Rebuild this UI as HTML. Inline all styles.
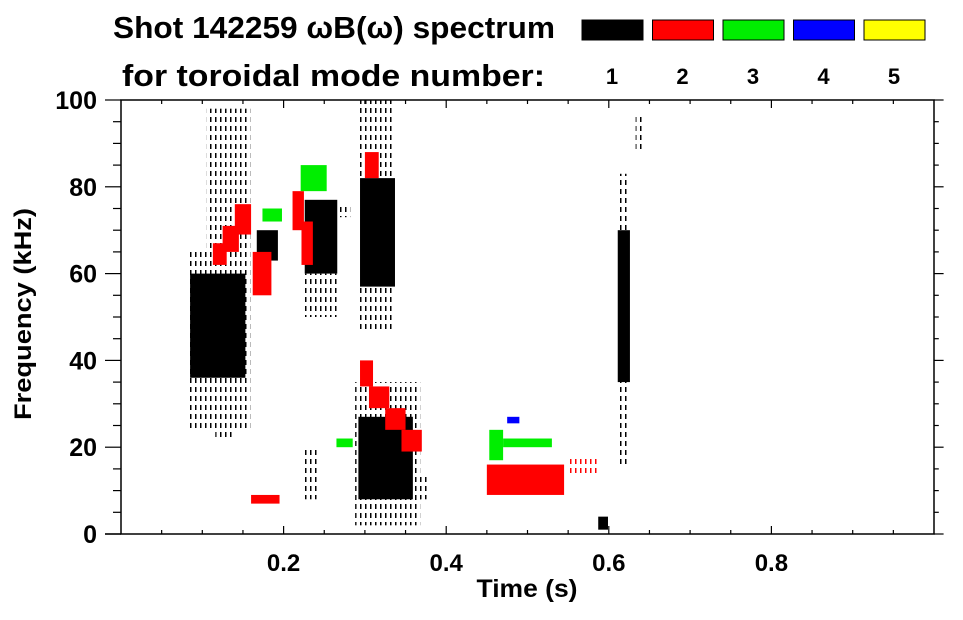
<!DOCTYPE html>
<html><head><meta charset="utf-8">
<style>
html,body{margin:0;padding:0;background:#fff;}
body{width:963px;height:615px;overflow:hidden;font-family:"Liberation Sans",Arial,sans-serif;}
svg text{font-family:"Liberation Sans",Arial,sans-serif;font-weight:bold;fill:#000;}
</style></head>
<body>
<svg id="chart" width="963" height="615" viewBox="0 0 963 615" xmlns="http://www.w3.org/2000/svg">
<defs>
<pattern id="streakK" width="5" height="9" patternUnits="userSpaceOnUse"><rect x="0" y="0" width="1.5" height="5" fill="#000"/></pattern>
<pattern id="streakR" width="5" height="9" patternUnits="userSpaceOnUse"><rect x="0" y="0" width="1.5" height="5" fill="#f00"/></pattern>
<pattern id="streakG" width="5" height="9" patternUnits="userSpaceOnUse"><rect x="0" y="0" width="1.5" height="5" fill="#0e0"/></pattern>
</defs>
<text x="113" y="38" font-size="31" textLength="442" lengthAdjust="spacingAndGlyphs">Shot 142259 ωB(ω) spectrum</text>
<text x="122" y="86" font-size="31" textLength="423" lengthAdjust="spacingAndGlyphs">for toroidal mode number:</text>
<g id="legend"></g>
<g id="marks"></g>
<g id="axes"></g>
<text transform="translate(31,314) rotate(-90)" text-anchor="middle" font-size="24" textLength="212" lengthAdjust="spacingAndGlyphs">Frequency (kHz)</text>
<text x="527" y="597" text-anchor="middle" font-size="25" textLength="101" lengthAdjust="spacingAndGlyphs">Time (s)</text>
</svg>
<script>
const modeLabels=["1","2","3","4","5"];
const modeColors=["#000","#f00","#0e0","#00f","#ff0"];
const xTicks=[0.2,0.4,0.6,0.8];
const yTicks=[0,20,40,60,80,100];
// blobs: start time, end time, low freq, high freq, mode index, dense(1)/sparse(0)
const blobT0=[0.082,0.085,0.116,0.105,0.167,0.226,0.226,0.266,0.294,0.294,0.294,0.292,0.288,0.359,0.223,0.611,0.611,0.587,0.633,
 0.113,0.125,0.14,0.162,0.211,0.222,0.3,0.294,0.305,0.325,0.345,0.16,0.45,0.548,
 0.174,0.221,0.453,0.47,0.265,0.475];
const blobT1=[0.159,0.153,0.14,0.159,0.193,0.266,0.266,0.282,0.337,0.337,0.337,0.359,0.368,0.378,0.241,0.626,0.626,0.599,0.641,
 0.13,0.145,0.16,0.185,0.225,0.236,0.317,0.31,0.33,0.35,0.37,0.195,0.545,0.585,
 0.198,0.253,0.47,0.53,0.285,0.49];
const blobF0=[24,36,22,65,63,60,50,73,57,82,47,8,2,8,8,35,16,1,88,
 62,65,69,55,70,62,82,34,29,24,19,7,9,14,
 72,79,17,20,20,25.5];
const blobF1=[65,60,36,98,70,77,60,76,82,100,57,27,35,14,20,70,83,4,97,
 67,71,76,65,79,72,88,40,34,29,24,9,16,18,
 75,85,24,22,22,27];
const blobMode=[0,0,0,0,0,0,0,0,0,0,0,0,0,0,0,0,0,0,0,
 1,1,1,1,1,1,1,1,1,1,1,1,1,1,
 2,2,2,2,2,3];
const blobDense=[0,1,0,0,1,1,0,0,1,0,0,1,0,0,0,1,0,1,0,
 1,1,1,1,1,1,1,1,1,1,1,1,1,0,
 1,1,1,1,1,1];
const X0=121,X1=934,Y0=534,Y1=100;
function xs(t){return X0+t*(X1-X0);}
function ys(f){return Y0-f/100*(Y0-Y1);}
const NS="http://www.w3.org/2000/svg";
function mk(tag,attrs,parent){const e=document.createElementNS(NS,tag);for(const k in attrs)e.setAttribute(k,attrs[k]);parent.appendChild(e);return e;}
const leg=document.getElementById('legend');
modeLabels.forEach((lab,i)=>{
  const bx=582+i*70.5;
  const r=mk('rect',{x:bx,y:20,width:61,height:20,fill:modeColors[i],stroke:'#000','stroke-width':1},leg);
  
  
  const t=mk('text',{x:bx+30,y:84,'text-anchor':'middle','font-size':22},leg);
  t.textContent=lab;
  
  
});
const marks=document.getElementById('marks');
const pats=["url(#streakK)","url(#streakR)","url(#streakG)"];
for(let i=0;i<blobT0.length;i++){
  const m=blobMode[i];
  const fill=blobDense[i]?modeColors[m]:(pats[m]||modeColors[m]);
  const r=mk('rect',{x:xs(blobT0[i]),y:ys(blobF1[i]),width:xs(blobT1[i])-xs(blobT0[i]),height:ys(blobF0[i])-ys(blobF1[i]),fill:fill},marks);
  
  
}
const ax=document.getElementById('axes');
mk('rect',{x:X0,y:Y1,width:X1-X0,height:Y0-Y1,fill:'none',stroke:'#000','stroke-width':1.5},ax);
mk('line',{x1:105,y1:Y0,x2:X0,y2:Y0,stroke:'#000','stroke-width':1.5},ax);
for(let t=0.05;t<1;t+=0.05){
  const major=Math.abs((t*10)%2)<0.01||Math.abs((t*10)%2-2)<0.01;
  const L=major?8:4;const x=xs(t);
  mk('line',{x1:x,y1:Y0,x2:x,y2:Y0-L,stroke:'#000','stroke-width':1.2},ax);
  mk('line',{x1:x,y1:Y1,x2:x,y2:Y1+L,stroke:'#000','stroke-width':1.2},ax);
}
for(let f=0;f<=100;f+=5){
  const major=f%20===0;const L=major?16:8;const y=ys(f);
  mk('line',{x1:X0-L,y1:y,x2:X0,y2:y,stroke:'#000','stroke-width':1.2},ax);
  mk('line',{x1:X1,y1:y,x2:X1+L*0.6,y2:y,stroke:'#000','stroke-width':1.2},ax);
}
xTicks.forEach(v=>{
  const t=mk('text',{x:xs(v),y:571,'text-anchor':'middle','font-size':24},ax);
  t.textContent=v.toFixed(1);
  
  
});
yTicks.forEach(v=>{
  const t=mk('text',{x:97,y:ys(v)+9,'text-anchor':'end','font-size':25},ax);
  t.textContent=String(v);
  
  
});
</script>
</body></html>
